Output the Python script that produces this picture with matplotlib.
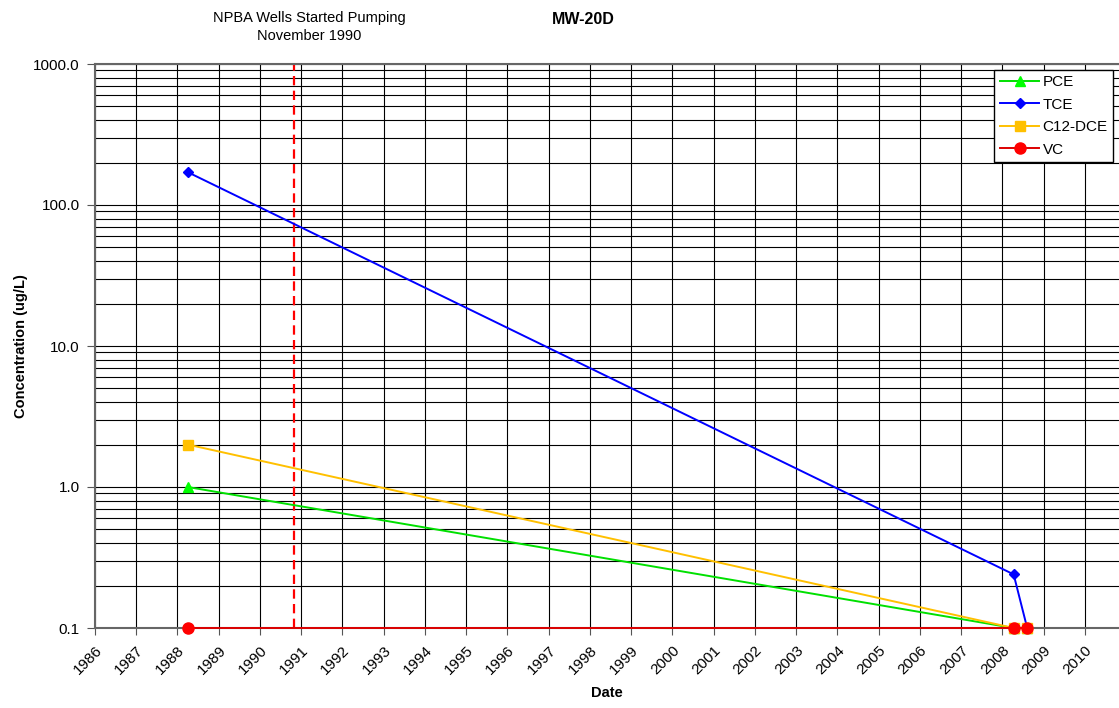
import matplotlib

matplotlib.use("Agg")
import matplotlib.pyplot as plt
import numpy as np
from datetime import datetime
from matplotlib.ticker import LogLocator, NullFormatter, FixedLocator

plt.rcParams["font.family"] = ["Liberation Sans", "DejaVu Sans"]

DATES = [datetime(1988, 4, 1), datetime(2008, 4, 10), datetime(2008, 8, 8)]
PCE = [1.0, 0.1, 0.1]
TCE = [171.0, 0.24, 0.1]
C12_DCE = [2.0, 0.1, 0.1]
VC = [0.1, 0.1, 0.1]
PUMP_START = datetime(1990, 11, 1)
YEARS = list(range(1986, 2011))
Y_TICKS = [0.1, 1.0, 10.0, 100.0, 1000.0]

SERIES = [
    ("PCE", PCE, "#00ff00", "#00e000", "^", 7.5),
    ("TCE", TCE, "#0000ff", "#0000ff", "D", 5.5),
    ("C12-DCE", C12_DCE, "#ffc000", "#ffc000", "s", 7.5),
    ("VC", VC, "#ff0000", "#dd0000", "o", 8),
]

fig = plt.figure(figsize=(11.19, 7.08), dpi=100)
ax = fig.add_axes([95 / 1119, 1 - 628 / 708, 1 - 95 / 1119, (628 - 64) / 708])

for name, values, mcolor, lcolor, marker, ms in SERIES:
    ax.plot(DATES, values, color=lcolor, lw=1.4, marker=marker, ms=ms,
            mfc=mcolor, mec=mcolor, label=name, zorder=3, clip_on=False)

ax.axvline(PUMP_START, color="#ff0000", lw=1.6, ls=(0, (4.2, 2.4)), zorder=2)

ax.set_yscale("log")
ax.set_ylim(0.1, 1000)
ax.set_xlim(datetime(1986, 1, 1), datetime(2010, 10, 30))
ax.yaxis.set_major_locator(FixedLocator(Y_TICKS))
ax.set_yticklabels([f"{v:.1f}" for v in Y_TICKS], fontsize=11)
ax.yaxis.set_minor_locator(LogLocator(base=10, subs=np.arange(2, 10)))
ax.yaxis.set_minor_formatter(NullFormatter())
ax.tick_params(axis="y", which="minor", length=0)
ax.tick_params(axis="y", which="major", length=6, color="#555555", pad=5)

year_ticks = [datetime(y, 1, 1) for y in YEARS]
ax.set_xticks(year_ticks)
ax.set_xticklabels([str(y) for y in YEARS], rotation=45, ha="right",
                   rotation_mode="anchor", fontsize=11)
ax.tick_params(axis="x", length=5, color="#555555", pad=6)

ax.grid(True, which="major", axis="both", color="black", lw=0.8)
ax.grid(True, which="minor", axis="y", color="black", lw=0.8)
ax.set_axisbelow(True)
for side, spine in ax.spines.items():
    spine.set_color("#666666")
    spine.set_linewidth(1.5)
ax.spines["right"].set_visible(False)

ax.set_ylabel("Concentration (ug/L)", fontsize=10.5, fontweight="bold", labelpad=4)
ax.set_xlabel("Date", fontsize=10.5, fontweight="bold", labelpad=6)

fig.text(583 / 1119, 1 - 20 / 708, "MW-20D", ha="center", va="center",
         fontsize=11.5, fontweight="bold")
fig.text(309 / 1119, 1 - 27 / 708, "NPBA Wells Started Pumping\nNovember 1990",
         ha="center", va="center", fontsize=10.5, linespacing=1.45)

leg = ax.legend(loc="upper right", fontsize=11, frameon=True,
                fancybox=False, edgecolor="black", framealpha=1,
                borderpad=0.35, labelspacing=0.55, handlelength=2.6,
                handletextpad=0.2, borderaxespad=0)
leg.get_frame().set_linewidth(1.0)
leg.set_bbox_to_anchor((1113 / 1119, 1 - 70 / 708), transform=fig.transFigure)

fig.savefig("out.png", dpi=100)
